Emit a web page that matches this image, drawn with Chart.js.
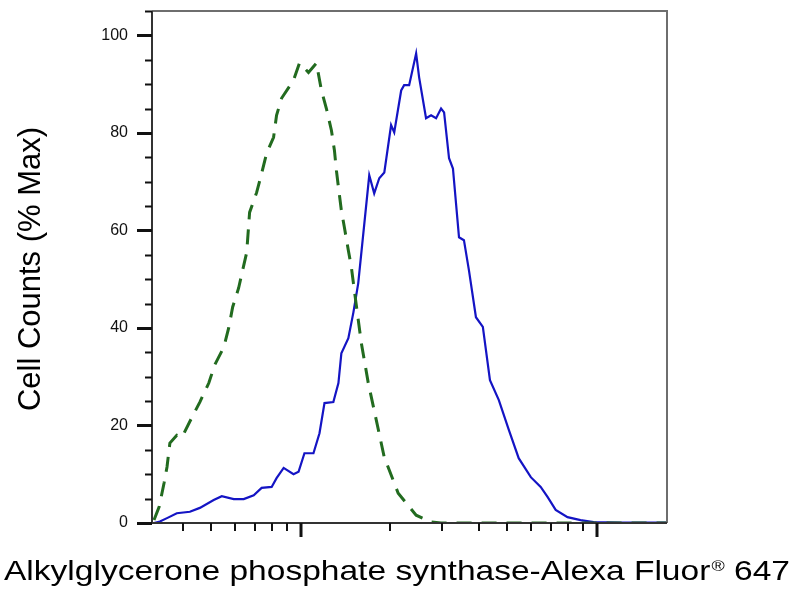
<!DOCTYPE html>
<html>
<head>
<meta charset="utf-8">
<script src="https://cdn.jsdelivr.net/npm/chart.js@4.4.0/dist/chart.umd.min.js"></script>
<style>
  html, body { margin: 0; padding: 0; background: #fff; }
  #wrap { width: 800px; height: 600px; position: relative; }
</style>
</head>
<body>
<div id="wrap"><canvas id="histChart"></canvas></div>
<script>
// Fluorescence intensity (log axis) and % max counts
const stainedX = [3.20, 3.35, 3.54, 3.82, 4.23, 4.57, 5.09, 5.42, 5.95, 6.43, 6.95, 7.39, 7.99, 8.30, 8.77, 9.47, 9.85,
  10.31, 11.06, 11.59, 12.05, 12.91, 13.43, 13.74, 14.51, 15.09, 15.67, 17.07, 17.74, 18.45, 19.19, 20.23, 20.73,
  21.88, 22.39, 23.28, 24.58, 25.16, 26.55, 27.61, 28.71, 29.84, 30.55, 31.75, 32.73, 34.31, 35.65, 37.07, 39.14,
  41.30, 43.65, 46.77, 50.55, 54.58, 59.98, 64.77, 68.39, 72.78, 79.80, 88.31, 97.72, 120.5, 173];
const stainedY = [0, 0.3, 1.0, 2.0, 2.3, 3.1, 4.7, 5.5, 4.9, 4.9, 5.7, 7.2, 7.4, 9.2, 11.3, 10.0, 10.5,
  14.3, 14.3, 18.4, 24.6, 24.8, 28.7, 34.8, 37.9, 43.2, 49.2, 71.3, 67.6, 70.7, 71.9, 81.6, 80.1,
  88.7, 89.8, 89.8, 96.3, 91.4, 83.0, 83.6, 83.0, 85.0, 84.2, 74.8, 72.7, 58.6, 58.0, 51.8, 42.2,
  40.2, 29.3, 25.2, 19.1, 13.3, 9.4, 7.4, 5.3, 2.7, 1.2, 0.6, 0.2, 0.1, 0.1];

const controlX = [3.20, 3.33, 3.46, 3.54, 3.62, 3.82, 3.98, 4.30, 4.57, 4.90, 5.13, 5.51, 5.72, 5.90, 6.18, 6.58, 6.73,
  7.11, 7.39, 7.68, 8.11, 8.30, 8.63, 9.47, 9.92, 10.64, 11.32, 11.77, 12.23, 12.72, 13.02, 13.22, 13.43, 13.74,
  14.06, 14.51, 14.85, 15.20, 16.05, 16.94, 18.03, 19.18, 21.38, 24.58, 27.61, 29.84, 173];
const controlY = [0.6, 3.3, 8.2, 11.5, 16.4, 18.0, 17.6, 21.7, 24.8, 28.7, 32.4, 36.1, 40.0, 44.3, 48.2, 55.5, 63.7,
  67.8, 71.7, 75.8, 79.1, 83.6, 87.1, 90.8, 94.3, 92.4, 94.3, 88.7, 85.0, 80.5, 76.4, 72.3, 68.9, 64.1,
  60.7, 55.9, 52.5, 47.7, 36.9, 28.7, 21.1, 13.5, 6.1, 1.6, 0.2, 0, 0];

// axis settings
const xMin = 3.15, xMax = 173;
const yMin = 0, yMax = 105;
const yTickStep = 5, yLabelStep = 20;
const xMajorTicks = [10, 100];
const xMinorTicks = [4, 5, 6, 7, 8, 9, 20, 30, 40, 50, 60, 70, 80, 90];
const xTitle = 'Alkylglycerone phosphate synthase-Alexa Fluor';
const xTitleMark = '\u00AE';
const xTitleEnd = ' 647';
const yTitle = 'Cell Counts (% Max)';

const FONT = "'Liberation Sans', Arial, sans-serif";

function toPoints(xs, ys) {
  return xs.map((x, i) => ({ x: x, y: ys[i] }));
}

// frame, tick marks and titles
const decorPlugin = {
  id: 'decor',
  afterDraw(chart) {
    const ctx = chart.ctx;
    const a = chart.chartArea;
    const xs = chart.scales.x, ys = chart.scales.y;
    ctx.save();
    // top and right border
    ctx.strokeStyle = '#6e6e6e';
    ctx.lineWidth = 2;
    ctx.beginPath();
    ctx.moveTo(a.left, a.top);
    ctx.lineTo(a.right, a.top);
    ctx.lineTo(a.right, a.bottom);
    ctx.stroke();
    // left and bottom axis
    ctx.strokeStyle = '#333';
    ctx.beginPath();
    ctx.moveTo(a.left, a.top);
    ctx.lineTo(a.left, a.bottom);
    ctx.lineTo(a.right, a.bottom);
    ctx.stroke();

    // y ticks
    ctx.strokeStyle = '#111';
    for (let v = yMin; v <= yMax; v += yTickStep) {
      const py = Math.round(ys.getPixelForValue(v)) + 0.5;
      const major = v % yLabelStep === 0;
      ctx.lineWidth = major ? 3 : 2;
      ctx.beginPath();
      ctx.moveTo(a.left - (major ? 15 : 7), py);
      ctx.lineTo(a.left, py);
      ctx.stroke();
    }
    // x ticks
    xMinorTicks.forEach(v => {
      const px = Math.round(xs.getPixelForValue(v));
      ctx.lineWidth = 2;
      ctx.beginPath();
      ctx.moveTo(px, a.bottom);
      ctx.lineTo(px, a.bottom + 8);
      ctx.stroke();
    });
    xMajorTicks.forEach(v => {
      const px = Math.round(xs.getPixelForValue(v));
      ctx.lineWidth = 3;
      ctx.beginPath();
      ctx.moveTo(px, a.bottom);
      ctx.lineTo(px, a.bottom + 14);
      ctx.stroke();
    });

    // x title with superscript mark, stretched to the reference width
    ctx.fillStyle = '#000';
    ctx.textBaseline = 'alphabetic';
    ctx.textAlign = 'left';
    const big = '28px ' + FONT, small = '15px ' + FONT;
    ctx.font = big;
    const w1 = ctx.measureText(xTitle).width;
    const w3 = ctx.measureText(xTitleEnd).width;
    ctx.font = small;
    const w2 = ctx.measureText(xTitleMark).width + 1;
    const total = w1 + w2 + w3;
    const stretch = 786 / total;
    const base = 580;
    ctx.save();
    ctx.translate(4, base);
    ctx.scale(stretch, 1);
    ctx.font = big;
    ctx.fillText(xTitle, 0, 0);
    ctx.font = small;
    ctx.fillText(xTitleMark, w1 + 1, -9);
    ctx.font = big;
    ctx.fillText(xTitleEnd, w1 + w2, 0);
    ctx.restore();

    // y title
    ctx.translate(40, (a.top + a.bottom) / 2 + 2);
    ctx.rotate(-Math.PI / 2);
    ctx.textAlign = 'center';
    ctx.font = '31px ' + FONT;
    ctx.fillText(yTitle, 0, 0);
    ctx.restore();
  }
};

const ctx = document.getElementById('histChart').getContext('2d');
const histChart = new Chart(ctx, {
  type: 'line',
  data: {
    datasets: [
      {
        label: 'Isotype control',
        data: toPoints(controlX, controlY),
        borderColor: '#226b1f',
        borderWidth: 3,
        borderDash: [15, 10],
        pointRadius: 0,
        tension: 0,
        fill: false
      },
      {
        label: 'Stained',
        data: toPoints(stainedX, stainedY),
        borderColor: '#1414c4',
        borderWidth: 2.2,
        pointRadius: 0,
        tension: 0,
        fill: false
      }
    ]
  },
  options: {
    responsive: true,
    maintainAspectRatio: false,
    devicePixelRatio: 1,
    animation: false,
    layout: { padding: { top: 11, right: 133, left: 0, bottom: 0 } },
    plugins: {
      legend: { display: false },
      tooltip: { enabled: false }
    },
    scales: {
      x: {
        type: 'logarithmic',
        min: xMin,
        max: xMax,
        grid: { display: false, drawTicks: false },
        border: { display: false },
        ticks: { display: false },
        afterFit(scale) {
          scale.height = 77;
          scale.paddingLeft = 0;
          scale.paddingRight = 0;
        }
      },
      y: {
        type: 'linear',
        min: yMin,
        max: yMax,
        grid: { display: false, drawTicks: false },
        border: { display: false },
        ticks: {
          stepSize: yTickStep,
          padding: 24,
          color: '#111',
          font: { family: FONT, size: 16 },
          callback: v => (v % yLabelStep === 0 ? v : '')
        },
        afterFit(scale) {
          scale.width = 152;
          scale.paddingTop = 0;
          scale.paddingBottom = 0;
        }
      }
    }
  },
  plugins: [decorPlugin]
});
</script>
</body>
</html>
